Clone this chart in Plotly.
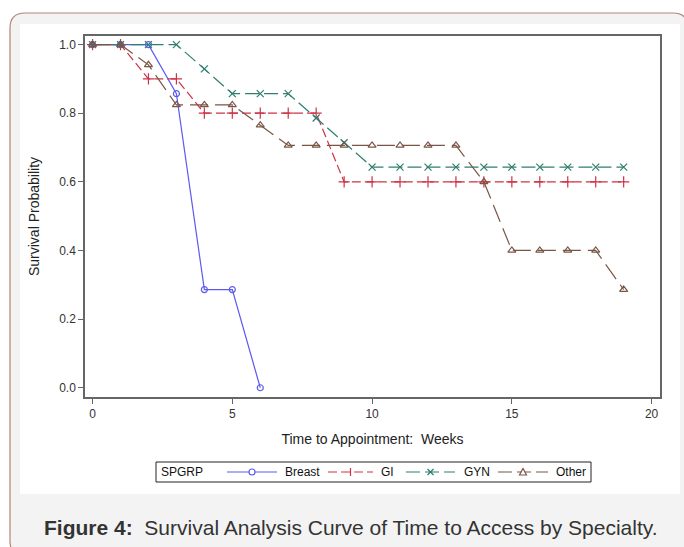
import plotly.graph_objects as go

weeks_breast = [0, 1, 2, 3, 4, 5, 6]
surv_breast = [1.0, 1.0, 1.0, 0.857, 0.286, 0.286, 0.0]

weeks_gi = list(range(0, 20))
surv_gi = [1.0, 1.0, 0.9, 0.9, 0.8, 0.8, 0.8, 0.8, 0.8, 0.6,
           0.6, 0.6, 0.6, 0.6, 0.6, 0.6, 0.6, 0.6, 0.6, 0.6]

weeks_gyn = list(range(0, 20))
surv_gyn = [1.0, 1.0, 1.0, 1.0, 0.929, 0.857, 0.857, 0.857, 0.786, 0.714,
            0.643, 0.643, 0.643, 0.643, 0.643, 0.643, 0.643, 0.643, 0.643, 0.643]

weeks_other = list(range(0, 20))
surv_other = [1.0, 1.0, 0.941, 0.824, 0.824, 0.824, 0.765, 0.706, 0.706, 0.706,
              0.706, 0.706, 0.706, 0.706, 0.6, 0.4, 0.4, 0.4, 0.4, 0.286]

group_names = ["Breast", "GI", "GYN", "Other"]
x_ticks = [0, 5, 10, 15, 20]
y_ticks = [0.0, 0.2, 0.4, 0.6, 0.8, 1.0]

W, H = 684, 547
L, R, T, B = 85, 24, 36, 150
PW, PH = W - L - R, H - T - B


def fx(px):
    return (px - L) / PW


def fy(py):
    return 1 - (py - T) / PH


FONT = "Liberation Sans, Arial, sans-serif"

fig = go.Figure()

colors = ["#5b5bf0", "#cc3346", "#2f7f6f", "#7a5646"]
dashes = ["solid", "9px,4px", "14px,5px", "18px,7px"]
symbols = ["circle-open", "cross-thin-open", "x-thin-open", "triangle-up-open"]
msizes = [6, 8, 7, 7]
data = [(weeks_breast, surv_breast), (weeks_gi, surv_gi),
        (weeks_gyn, surv_gyn), (weeks_other, surv_other)]

for name, (xs, ys), col, dash, sym, ms in zip(group_names, data, colors, dashes, symbols, msizes):
    fig.add_trace(go.Scatter(
        x=xs, y=ys, name=name, mode="lines+markers", showlegend=False,
        line=dict(color=col, width=1.2, dash=dash),
        marker=dict(symbol=sym, size=ms, color=col, line=dict(color=col, width=1.2)),
    ))

# outer rounded frame + white panel
x0, x1, y0, y1 = 10, 688, 13, 556
rx, ry = 15 / PW, 15 / PH
X0, X1, Y0, Y1 = fx(x0), fx(x1), fy(y0), fy(y1)
path = (f"M {X0 + rx},{Y0} L {X1 - rx},{Y0} Q {X1},{Y0} {X1},{Y0 - ry} "
        f"L {X1},{Y1 + ry} Q {X1},{Y1} {X1 - rx},{Y1} L {X0 + rx},{Y1} "
        f"Q {X0},{Y1} {X0},{Y1 + ry} L {X0},{Y0 - ry} Q {X0},{Y0} {X0 + rx},{Y0} Z")
fig.add_shape(type="path", path=path, xref="paper", yref="paper",
              fillcolor="#f3f3f3", line=dict(color="#b58478", width=1.2), layer="below")
fig.add_shape(type="rect", xref="paper", yref="paper",
              x0=fx(20), x1=fx(680), y0=fy(24), y1=fy(494),
              fillcolor="white", line=dict(width=0), layer="below")

# ---- manual legend (pixel layout) ----
LEG_Y = 472
fig.add_shape(type="rect", xref="paper", yref="paper",
              x0=fx(156), x1=fx(591), y0=fy(462), y1=fy(482),
              fillcolor="white", line=dict(color="#222222", width=1))
fig.add_annotation(text="SPGRP", xref="paper", yref="paper", x=fx(159), y=fy(LEG_Y),
                   xanchor="left", yanchor="middle", showarrow=False,
                   font=dict(family=FONT, size=12, color="#111111"))
seg = [(227, 277), (328, 373), (406, 455), (498, 548)]
txt_x = [283, 379, 462, 554]
for i, name in enumerate(group_names):
    a, b = seg[i]
    col = colors[i]
    fig.add_shape(type="line", xref="paper", yref="paper",
                  x0=fx(a), x1=fx(b), y0=fy(LEG_Y), y1=fy(LEG_Y),
                  line=dict(color=col, width=1.2, dash=["solid", "9px,4px", "14px,5px", "14px,5px"][i]))
    cx = (a + b) / 2
    if i == 0:
        fig.add_shape(type="circle", xref="paper", yref="paper",
                      x0=fx(cx - 3), x1=fx(cx + 3), y0=fy(LEG_Y - 3), y1=fy(LEG_Y + 3),
                      fillcolor="white", line=dict(color=col, width=1.2))
    elif i == 1:
        fig.add_shape(type="line", xref="paper", yref="paper",
                      x0=fx(cx), x1=fx(cx), y0=fy(LEG_Y - 4), y1=fy(LEG_Y + 4),
                      line=dict(color=col, width=1.2))
    elif i == 2:
        for s in (1, -1):
            fig.add_shape(type="line", xref="paper", yref="paper",
                          x0=fx(cx - 3), x1=fx(cx + 3), y0=fy(LEG_Y - 3 * s), y1=fy(LEG_Y + 3 * s),
                          line=dict(color=col, width=1.2))
    else:
        tri = (f"M {fx(cx - 3.5)},{fy(LEG_Y + 3)} L {fx(cx + 3.5)},{fy(LEG_Y + 3)} "
               f"L {fx(cx)},{fy(LEG_Y - 3.5)} Z")
        fig.add_shape(type="path", path=tri, xref="paper", yref="paper",
                      fillcolor="white", line=dict(color=col, width=1.2))
    fig.add_annotation(text=name, xref="paper", yref="paper", x=fx(txt_x[i]), y=fy(LEG_Y),
                       xanchor="left", yanchor="middle", showarrow=False,
                       font=dict(family=FONT, size=12, color="#111111"))

fig.add_annotation(
    text="<b>Figure 4:</b>  Survival Analysis Curve of Time to Access by Specialty.",
    xref="paper", yref="paper", x=fx(351), y=fy(527),
    xanchor="center", yanchor="middle", showarrow=False,
    font=dict(family=FONT, size=21, color="#333333"),
)

axis_common = dict(
    showgrid=False, zeroline=False, showline=True, mirror=True,
    linecolor="#666666", linewidth=1.5, ticks="outside", ticklen=5,
    tickcolor="#666666", tickfont=dict(family=FONT, size=12, color="#333333"),
)

fig.update_xaxes(
    range=[-0.27, 20.3], tickvals=x_ticks, ticktext=[str(v) for v in x_ticks],
    title=dict(text="Time to Appointment:  Weeks", standoff=14,
               font=dict(family=FONT, size=14, color="#222222")),
    **axis_common,
)
fig.update_yaxes(
    range=[-0.027, 1.025], tickvals=y_ticks, ticktext=[f"{v:.1f}" for v in y_ticks],
    title=dict(text="Survival Probability", standoff=16,
               font=dict(family=FONT, size=14, color="#222222")),
    **axis_common,
)

fig.update_layout(
    width=W, height=H,
    margin=dict(l=L, r=R, t=T, b=B),
    paper_bgcolor="white", plot_bgcolor="white",
    showlegend=False,
)

fig.write_html("out.html", config={"displayModeBar": False},
               post_script="document.body.style.margin='0px';")
